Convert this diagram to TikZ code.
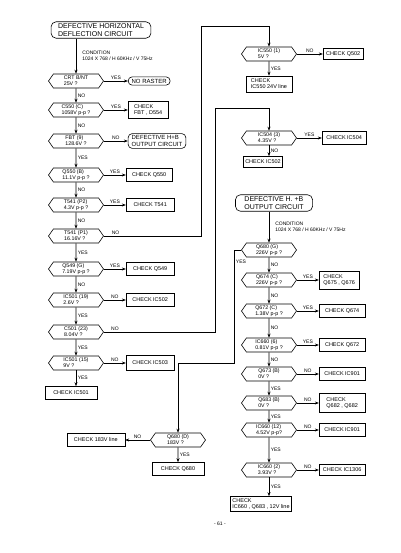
\documentclass[tikz,border=0pt]{standalone}
\usepackage{fontspec}
\setmainfont{Liberation Sans}
\usepackage{tikz}
\usetikzlibrary{shapes.symbols, arrows.meta, positioning}

\begin{document}
\begin{tikzpicture}[
    x=1pt, y=1pt,
    line width=0.6pt,
    hexq/.style={draw, signal, signal to=east and west, signal pointer angle=110,
                 minimum width=55pt, minimum height=14pt, inner sep=1pt,
                 font=\fontsize{5.3}{6}\selectfont, align=left},
    chk/.style={draw, minimum width=46pt, minimum height=13pt, inner sep=2pt,
                font=\fontsize{5.5}{6}\selectfont, align=left},
    term/.style={draw, rounded corners=5pt, inner xsep=7pt, inner ysep=2pt,
                 font=\fontsize{7}{7.5}\selectfont, align=left},
    endbox/.style={draw, rounded corners=4pt, inner xsep=3.5pt, inner ysep=2pt,
                   font=\fontsize{6}{6.5}\selectfont, align=left},
    lbl/.style={font=\fontsize{5}{5}\selectfont, inner sep=1.5pt},
    cond/.style={font=\fontsize{5}{6}\selectfont, align=left, inner sep=2pt},
    arrow/.style={-{Stealth[length=4pt, width=3pt]}},
]
\useasboundingbox (-101,30) rectangle (299,-523);

% Left column
\node[term] (start) at (0,0) {DEFECTIVE HORIZONTAL\\DEFLECTION CIRCUIT};
\node[hexq, on grid, below left=51pt and 25pt of start] (crt) {CRT B/NT\\25V ?};
\node[hexq, on grid, below=29pt of crt] (c550) {C550 (C)\\1058V p-p ?};
\node[hexq, on grid, below=31pt of c550] (fbt) {FBT (9)\\128.6V ?};
\node[hexq, on grid, below=34pt of fbt] (q550) {Q550 (B)\\11.1V p-p ?};
\node[hexq, on grid, below=30pt of q550] (t541b) {T541 (P2)\\4.3V p-p ?};
\node[hexq, on grid, below=31pt of t541b] (t541a) {T541 (P1)\\16.16V ?};
\node[hexq, on grid, below=33pt of t541a] (q549) {Q549 (G)\\7.19V p-p ?};
\node[hexq, on grid, below=31pt of q549] (ic501a) {IC501 (19)\\2.6V ?};
\node[hexq, on grid, below=32pt of ic501a] (c501) {C501 (23)\\8.04V ?};
\node[hexq, on grid, below=31pt of c501] (ic501b) {IC501 (15)\\9V ?};
\node[chk, on grid, below=30pt of ic501b, xshift=-5pt, minimum width=52pt]
    (chkic501) {CHECK IC501};

\node[endbox, right=24pt of crt] (noraster) {NO RASTER};
\node[chk, right=24pt of c550, minimum width=40pt, minimum height=17pt]
    (chkfbt) {CHECK\\FBT , D554};
\node[endbox, right=24pt of fbt] (defhb) {DEFECTIVE H+B\\OUTPUT CIRCUIT};
\node[chk, right=22pt of q550] (chkq550) {CHECK Q550};
\node[chk, right=22pt of t541b, minimum width=48pt] (chkt541) {CHECK T541};
\node[chk, right=22pt of q549, minimum width=48pt] (chkq549) {CHECK Q549};
\node[chk, right=22pt of ic501a, minimum width=48pt] (chkic502a) {CHECK IC502};
\node[chk, right=22pt of ic501b, minimum width=48pt, minimum height=15pt]
    (chkic503) {CHECK IC503};

% Right column, top
\node[hexq, on grid, above right=27pt and 193pt of crt] (ic550) {IC550 (1)\\5V ?};
\node[chk, right=26pt of ic550, minimum width=40pt, minimum height=11pt]
    (chkq502) {CHECK Q502};
\node[chk, on grid, below=30pt of ic550, minimum height=16pt]
    (chkic550) {CHECK\\IC550 24V line};
\node[hexq, on grid, below=84pt of ic550] (ic504) {IC504 (3)\\4.35V ?};
\node[chk, right=25pt of ic504, minimum width=44pt] (chkic504) {CHECK IC504};
\node[chk, on grid, below=24pt of ic504, xshift=-6pt, minimum width=38pt,
      minimum height=11pt] (chkic502b) {CHECK IC502};

% Right column, H+B output
\node[hexq, on grid, below=112pt of ic504] (q680g) {Q680 (G)\\226V p-p ?};
\node[term, on grid, above=47pt of q680g, xshift=5pt, inner xsep=9pt]
    (hb) {DEFECTIVE H. +B\\OUTPUT CIRCUIT};
\node[hexq, on grid, below=30pt of q680g] (q674) {Q674 (C)\\226V p-p ?};
\node[hexq, on grid, below=31pt of q674] (q672) {Q672 (C)\\1.38V p-p ?};
\node[hexq, on grid, below=34pt of q672] (ic660a) {IC660 (6)\\0.81V p-p ?};
\node[hexq, on grid, below=29pt of ic660a] (q673) {Q673 (B)\\0V ?};
\node[hexq, on grid, below=29pt of q673] (q683) {Q683 (B)\\0V ?};
\node[hexq, on grid, below=27pt of q683] (ic660b) {IC660 (12)\\4.52V p-p?};
\node[hexq, on grid, below=40pt of ic660b] (ic660c) {IC660 (2)\\3.93V ?};
\node[chk, on grid, below=34pt of ic660c, xshift=-8pt, minimum height=15pt]
    (chkfinal) {CHECK\\IC660 , Q683 , 12V line};

\node[chk, right=22pt of q674, minimum width=40pt, minimum height=18pt]
    (chkq675) {CHECK\\Q675 , Q676};
\node[chk, right=22pt of q672] (chkq674) {CHECK Q674};
\node[chk, right=22pt of ic660a] (chkq672) {CHECK Q672};
\node[chk, right=22pt of q673] (chkic901a) {CHECK IC901};
\node[chk, right=22pt of q683, minimum height=19pt] (chkq682) {CHECK\\Q682 , Q682};
\node[chk, right=22pt of ic660b] (chkic901b) {CHECK IC901};
\node[chk, right=22pt of ic660c, minimum height=11pt] (chkic1306) {CHECK IC1306};

% Q680 drain
\node[hexq, on grid, below left=10pt and 91pt of ic660b] (q680d) {Q680 (D)\\183V ?};
\node[chk, left=25pt of q680d, minimum width=58pt] (chk183) {CHECK 183V line};
\node[chk, on grid, below=29pt of q680d, minimum width=52pt] (chkq680) {CHECK Q680};

\node[cond, on grid, below left=20pt and 41pt of chkfinal] (pageno) {- 61 -};

% Left connectors
\draw[arrow] (crt.north |- start.south) -- (crt.north)
    node[cond, midway, right, xshift=4pt] {CONDITION\\1024 X 768 / H 60KHz / V 75Hz};
\draw[arrow] (crt.east) -- (crt.east -| noraster.west) node[lbl, midway, above] {YES};
\draw[arrow] (crt) -- (c550) node[lbl, midway, right] {NO};
\draw[arrow] (c550.east) -- (c550.east -| chkfbt.west) node[lbl, midway, above] {YES};
\draw[arrow] (c550) -- (fbt) node[lbl, midway, right] {NO};
\draw[arrow] (fbt.east) -- (fbt.east -| defhb.west) node[lbl, midway, above] {NO};
\draw[arrow] (fbt) -- (q550) node[lbl, midway, right] {YES};
\draw[arrow] (q550.east) -- (q550.east -| chkq550.west) node[lbl, midway, above] {YES};
\draw[arrow] (q550) -- (t541b) node[lbl, midway, right] {NO};
\draw[arrow] (t541b.east) -- (t541b.east -| chkt541.west) node[lbl, midway, above] {YES};
\draw[arrow] (t541b) -- (t541a) node[lbl, midway, right] {NO};
\draw[arrow] (t541a) -- (q549) node[lbl, midway, right] {YES};
\draw[arrow] (q549.east) -- (q549.east -| chkq549.west) node[lbl, midway, above] {YES};
\draw[arrow] (q549) -- (ic501a) node[lbl, midway, right] {NO};
\draw[arrow] (ic501a.east) -- (ic501a.east -| chkic502a.west) node[lbl, midway, above] {NO};
\draw[arrow] (ic501a) -- (c501) node[lbl, midway, right] {YES};
\draw[arrow] (c501) -- (ic501b) node[lbl, midway, right] {YES};
\draw[arrow] (ic501b.east) -- (ic501b.east -| chkic503.west) node[lbl, midway, above] {NO};
\draw[arrow] (ic501b.south) -- (ic501b.south |- chkic501.north) node[lbl, midway, right] {YES};

% Loops to the right column
\draw[arrow] (t541a.east) -- ++(97,0) node[lbl, pos=0.12, above] {NO}
    |- ([yshift=20pt]ic550.north) -- (ic550.north);
\draw[arrow] (c501.east) -- ++(111,0) node[lbl, pos=0.1, above] {NO}
    |- ([yshift=22pt]ic504.north) -- (ic504.north);

% Right connectors
\draw[arrow] (ic550.east) -- (ic550.east -| chkq502.west) node[lbl, midway, above] {NO};
\draw[arrow] (ic550) -- (chkic550) node[lbl, midway, right] {YES};
\draw[arrow] (ic504.east) -- (ic504.east -| chkic504.west) node[lbl, midway, above] {YES};
\draw[arrow] (ic504.south) -- (ic504.south |- chkic502b.north) node[lbl, midway, right] {NO};

\draw[arrow] (q680g.north |- hb.south) -- (q680g.north)
    node[cond, midway, right, xshift=4pt] {CONDITION\\1024 X 768 / H 60KHz / V 75Hz};
\draw[arrow] (q680g) -- (q674) node[lbl, midway, right] {NO};
\draw[arrow] (q674.east) -- (q674.east -| chkq675.west) node[lbl, midway, above] {YES};
\draw[arrow] (q674) -- (q672) node[lbl, midway, right] {NO};
\draw[arrow] (q672.east) -- (q672.east -| chkq674.west) node[lbl, midway, above] {YES};
\draw[arrow] (q672) -- (ic660a) node[lbl, midway, right] {NO};
\draw[arrow] (ic660a.east) -- (ic660a.east -| chkq672.west) node[lbl, midway, above] {YES};
\draw[arrow] (ic660a) -- (q673) node[lbl, midway, right] {NO};
\draw[arrow] (q673.east) -- (q673.east -| chkic901a.west) node[lbl, midway, above] {NO};
\draw[arrow] (q673) -- (q683) node[lbl, midway, right] {YES};
\draw[arrow] (q683.east) -- (q683.east -| chkq682.west) node[lbl, midway, above] {NO};
\draw[arrow] (q683) -- (ic660b) node[lbl, midway, right] {YES};
\draw[arrow] (ic660b.east) -- (ic660b.east -| chkic901b.west) node[lbl, midway, above] {NO};
\draw[arrow] (ic660b) -- (ic660c) node[lbl, midway, right] {YES};
\draw[arrow] (ic660c.east) -- (ic660c.east -| chkic1306.west) node[lbl, midway, above] {NO};
\draw[arrow] (ic660c.south) -- (ic660c.south |- chkfinal.north) node[lbl, midway, right] {YES};

% Q680 gate yes -> drain
\draw[arrow] (q680g.west) -- ++(-7,0) -- ++(0,-113) node[lbl, pos=0.1, right] {YES}
    -| (q680d.north);
\draw[arrow] (q680d.west) -- (q680d.west -| chk183.east) node[lbl, midway, above] {NO};
\draw[arrow] (q680d) -- (chkq680) node[lbl, midway, right] {YES};
\end{tikzpicture}
\end{document}
